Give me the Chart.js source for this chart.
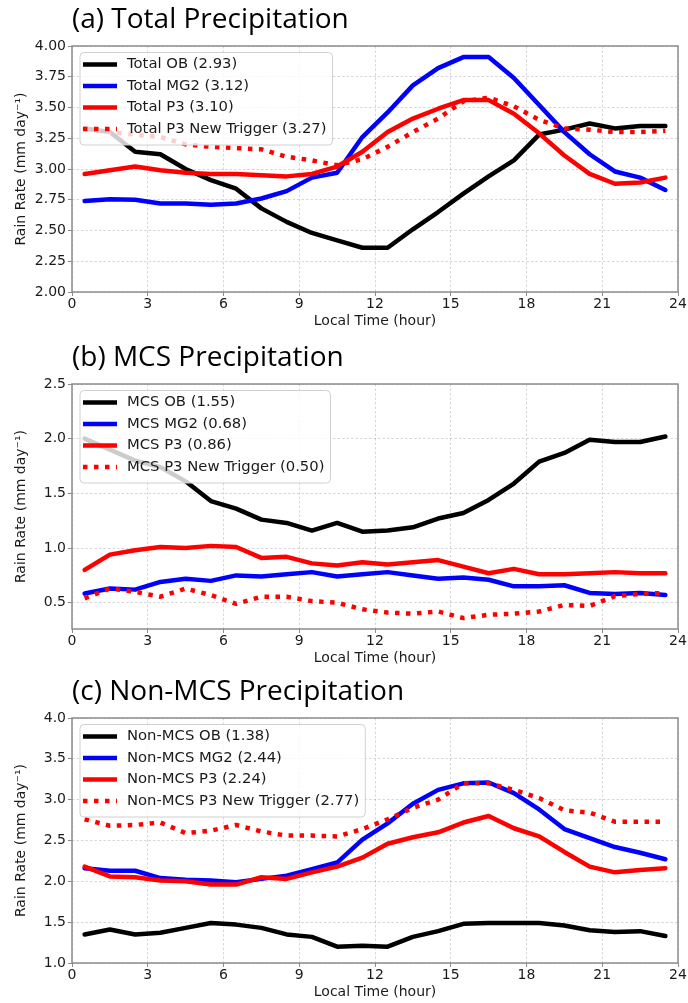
<!DOCTYPE html>
<html>
<head>
<meta charset="utf-8">
<script src="https://cdn.jsdelivr.net/npm/chart.js@4.4.0/dist/chart.umd.min.js"></script>
<style>
  body { margin: 0; background: #fff; }
  .panel { position: absolute; left: 0; width: 688px; }
</style>
</head>
<body>
<div class="panel" style="top:0;height:332px"><canvas id="chartA"></canvas></div>
<div class="panel" style="top:338px;height:331px"><canvas id="chartB"></canvas></div>
<div class="panel" style="top:672px;height:331px"><canvas id="chartC"></canvas></div>
<script>
// local hour (bin centres)
const hours = [0.5, 1.5, 2.5, 3.5, 4.5, 5.5, 6.5, 7.5, 8.5, 9.5, 10.5, 11.5,
  12.5, 13.5, 14.5, 15.5, 16.5, 17.5, 18.5, 19.5, 20.5, 21.5, 22.5, 23.5];
const xTicks = [0, 3, 6, 9, 12, 15, 18, 21, 24];

// (a) total precipitation
const totalOB = [3.33, 3.30, 3.14, 3.12, 3.00, 2.91, 2.84, 2.68, 2.57, 2.48, 2.42, 2.36,
  2.36, 2.51, 2.65, 2.80, 2.94, 3.07, 3.28, 3.32, 3.37, 3.33, 3.35, 3.35];
const totalMG2 = [2.74, 2.755, 2.75, 2.72, 2.72, 2.71, 2.72, 2.76, 2.82, 2.93, 2.97, 3.26,
  3.46, 3.68, 3.82, 3.91, 3.91, 3.74, 3.52, 3.30, 3.12, 2.98, 2.93, 2.83];
const totalP3 = [2.96, 2.99, 3.02, 2.99, 2.97, 2.96, 2.96, 2.95, 2.94, 2.96, 3.02, 3.14,
  3.30, 3.41, 3.49, 3.56, 3.56, 3.45, 3.29, 3.11, 2.96, 2.88, 2.89, 2.93];
const totalNT = [3.33, 3.30, 3.28, 3.26, 3.20, 3.18, 3.17, 3.16, 3.10, 3.07, 3.03, 3.08,
  3.18, 3.30, 3.41, 3.55, 3.58, 3.51, 3.40, 3.33, 3.32, 3.30, 3.30, 3.31];
const yTicksA = [2.00, 2.25, 2.50, 2.75, 3.00, 3.25, 3.50, 3.75, 4.00];

// (b) MCS precipitation
const mcsOB = [2.00, 1.90, 1.80, 1.74, 1.61, 1.43, 1.36, 1.26, 1.23, 1.16, 1.23, 1.15,
  1.16, 1.19, 1.27, 1.32, 1.44, 1.59, 1.79, 1.87, 1.99, 1.97, 1.97, 2.02];
const mcsMG2 = [0.585, 0.63, 0.62, 0.69, 0.72, 0.70, 0.75, 0.74, 0.76, 0.78, 0.74, 0.76,
  0.78, 0.75, 0.72, 0.73, 0.71, 0.65, 0.65, 0.66, 0.59, 0.58, 0.59, 0.57];
const mcsP3 = [0.80, 0.94, 0.98, 1.01, 1.00, 1.02, 1.01, 0.91, 0.92, 0.86, 0.84, 0.87,
  0.85, 0.87, 0.89, 0.83, 0.77, 0.81, 0.76, 0.76, 0.77, 0.78, 0.77, 0.77];
const mcsNT = [0.54, 0.63, 0.60, 0.555, 0.63, 0.57, 0.49, 0.555, 0.555, 0.515, 0.50, 0.44,
  0.41, 0.40, 0.42, 0.36, 0.39, 0.40, 0.42, 0.48, 0.47, 0.56, 0.58, 0.59];
const yTicksB = [0.5, 1.0, 1.5, 2.0, 2.5];

// (c) non-MCS precipitation
const nonOB = [1.35, 1.41, 1.35, 1.37, 1.43, 1.49, 1.47, 1.43, 1.35, 1.32, 1.20, 1.21,
  1.20, 1.32, 1.39, 1.48, 1.49, 1.49, 1.49, 1.46, 1.40, 1.38, 1.39, 1.33];
const nonMG2 = [2.16, 2.13, 2.13, 2.04, 2.02, 2.01, 1.99, 2.03, 2.07, 2.15, 2.23, 2.51,
  2.71, 2.95, 3.12, 3.20, 3.21, 3.08, 2.88, 2.64, 2.53, 2.42, 2.35, 2.27];
const nonP3 = [2.18, 2.06, 2.05, 2.01, 2.00, 1.96, 1.96, 2.05, 2.03, 2.11, 2.18, 2.29,
  2.46, 2.54, 2.60, 2.72, 2.80, 2.65, 2.55, 2.36, 2.18, 2.11, 2.14, 2.16];
const nonNT = [2.76, 2.68, 2.69, 2.72, 2.59, 2.62, 2.69, 2.61, 2.56, 2.56, 2.55, 2.64,
  2.76, 2.90, 3.00, 3.20, 3.20, 3.12, 3.02, 2.87, 2.84, 2.73, 2.73, 2.73];
const yTicksC = [1.0, 1.5, 2.0, 2.5, 3.0, 3.5, 4.0];

const tickFont = {family: '"DejaVu Sans"', size: 14};
const textColor = '#1a1a1a';
const spineColor = '#8c8c8c';

// frame round the plot area, legend box drawn over the lines
const frameAndLegend = {
  id: 'frameAndLegend',
  beforeDatasetsDraw(chart) {
    const {ctx, chartArea: a} = chart;
    ctx.save();
    ctx.strokeStyle = spineColor;
    ctx.lineWidth = 1.5;
    ctx.strokeRect(a.left, a.top, a.right - a.left, a.bottom - a.top);
    ctx.restore();
  },
  afterDatasetsDraw(chart) {
    const {ctx, chartArea: a} = chart;
    const sets = chart.data.datasets;
    ctx.save();
    ctx.font = '14.8px "DejaVu Sans"';
    const textW = Math.max(...sets.map(d => ctx.measureText(d.label).width));
    const bx = a.left + 8, by = a.top + 6.5;
    const bw = 47 + textW + 6, bh = 92.5;
    ctx.beginPath();
    ctx.roundRect(bx, by, bw, bh, 4);
    ctx.fillStyle = 'rgba(255,255,255,0.8)';
    ctx.fill();
    ctx.strokeStyle = '#d0d0d0';
    ctx.lineWidth = 1;
    ctx.stroke();
    sets.forEach((d, i) => {
      const y = by + 12 + i * 21.5;
      ctx.beginPath();
      ctx.strokeStyle = d.borderColor;
      ctx.lineWidth = d.borderWidth;
      ctx.lineCap = 'butt';
      ctx.setLineDash(d.borderDash || []);
      ctx.moveTo(bx + 3, y);
      ctx.lineTo(bx + 37, y);
      ctx.stroke();
      ctx.setLineDash([]);
      ctx.fillStyle = textColor;
      ctx.textBaseline = 'middle';
      ctx.fillText(d.label, bx + 47, y);
    });
    ctx.restore();
  }
};

function series(label, values, color, dotted, order) {
  return {
    label: label,
    data: hours.map((h, i) => ({x: h, y: values[i]})),
    borderColor: color,
    backgroundColor: color,
    borderWidth: 4.5,
    borderDash: dotted ? [4.5, 6.5] : [],
    borderCapStyle: dotted ? 'butt' : 'round',
    borderJoinStyle: 'round',
    pointRadius: 0,
    tension: 0,
    order: order
  };
}

function makeChart(id, title, prefix, sets, yMin, yMax, yTicks, digits) {
  const ctx = document.getElementById(id).getContext('2d');
  return new Chart(ctx, {
    type: 'line',
    data: {
      datasets: [
        series(prefix + ' OB (' + sets[0][1] + ')', sets[0][0], '#000000', false, 4),
        series(prefix + ' MG2 (' + sets[1][1] + ')', sets[1][0], '#0000ff', false, 3),
        series(prefix + ' P3 (' + sets[2][1] + ')', sets[2][0], '#ff0000', false, 2),
        series(prefix + ' P3 New Trigger (' + sets[3][1] + ')', sets[3][0], '#ff0000', true, 1)
      ]
    },
    options: {
      responsive: true,
      maintainAspectRatio: false,
      animation: false,
      devicePixelRatio: 1,
      layout: {padding: {left: 0, right: 10, top: 0, bottom: 0}},
      plugins: {
        legend: {display: false},
        tooltip: {enabled: false},
        title: {
          display: true,
          text: title,
          align: 'start',
          fullSize: false,
          color: '#000',
          font: {family: '"Open Sans"', size: 28, weight: 'normal', lineHeight: 1.2},
          padding: {top: 3.4, bottom: 9}
        }
      },
      scales: {
        x: {
          type: 'linear',
          min: 0,
          max: 24,
          afterBuildTicks: s => { s.ticks = xTicks.map(v => ({value: v})); },
          afterFit: s => { s.height = 40; },
          ticks: {font: tickFont, color: textColor, padding: 0, maxRotation: 0,
            callback: v => String(v)},
          grid: {color: 'rgba(0,0,0,0.2)', lineWidth: 0.8, tickLength: 4,
            tickColor: spineColor, tickWidth: 1, tickBorderDash: []},
          border: {display: false, dash: [2.5, 2]},
          title: {display: true, text: 'Local Time (hour)', font: tickFont, color: textColor,
            padding: {top: 2.6, bottom: 2.6}}
        },
        y: {
          min: yMin,
          max: yMax,
          afterBuildTicks: s => { s.ticks = yTicks.map(v => ({value: v})); },
          afterFit: s => { s.width = 72; },
          ticks: {font: tickFont, color: textColor, padding: 2,
            callback: v => v.toFixed(digits)},
          grid: {color: 'rgba(0,0,0,0.2)', lineWidth: 0.8, tickLength: 4,
            tickColor: spineColor, tickWidth: 1, tickBorderDash: []},
          border: {display: false, dash: [2.5, 2]},
          title: {display: true, text: 'Rain Rate (mm day⁻¹)', font: tickFont, color: textColor,
            padding: {top: 12.6, bottom: 12.6}}
        }
      }
    },
    plugins: [frameAndLegend]
  });
}

makeChart('chartA', '(a) Total Precipitation', 'Total',
  [[totalOB, '2.93'], [totalMG2, '3.12'], [totalP3, '3.10'], [totalNT, '3.27']],
  2.0, 4.0, yTicksA, 2);
makeChart('chartB', '(b) MCS Precipitation', 'MCS',
  [[mcsOB, '1.55'], [mcsMG2, '0.68'], [mcsP3, '0.86'], [mcsNT, '0.50']],
  0.26, 2.5, yTicksB, 1);
makeChart('chartC', '(c) Non-MCS Precipitation', 'Non-MCS',
  [[nonOB, '1.38'], [nonMG2, '2.44'], [nonP3, '2.24'], [nonNT, '2.77']],
  1.0, 4.0, yTicksC, 1);
</script>
</body>
</html>
